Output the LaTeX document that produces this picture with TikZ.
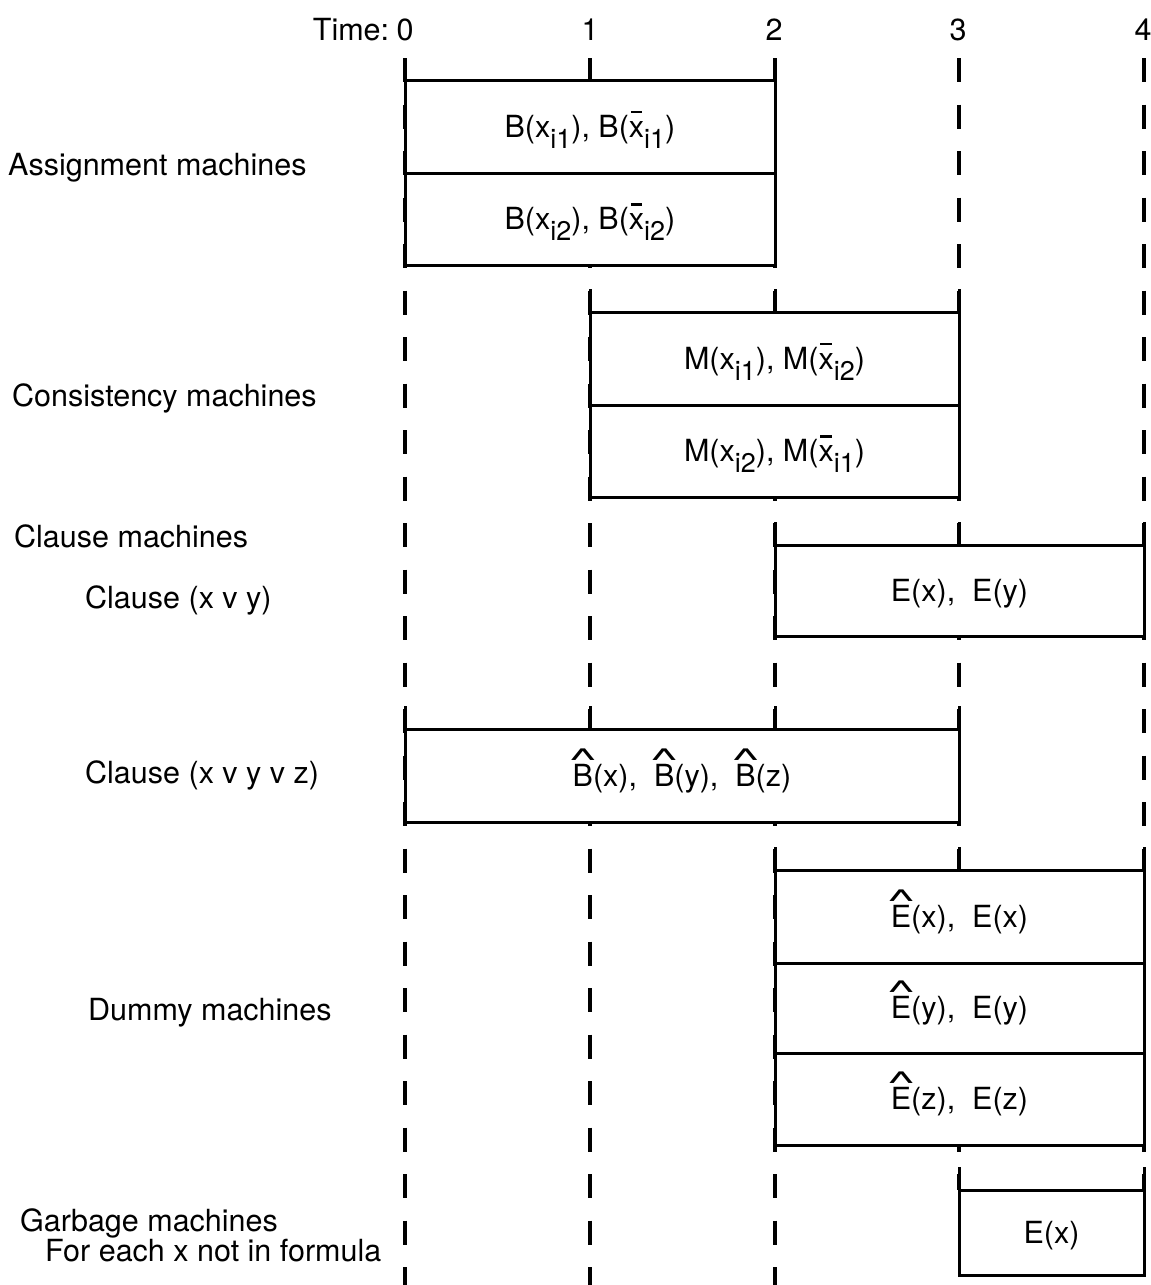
\documentclass[tikz,border=0pt]{standalone}
\usepackage{fontspec}
\setmainfont{TeX Gyre Heros}
\usepackage{graphicx}
\newsavebox\hatbox
\newcommand\hatof[1]{\sbox\hatbox{#1}\makebox[0pt][l]{\makebox[\wd\hatbox]{\raisebox{0.52em}[0pt][0pt]{\scalebox{2.0}[1.0]{\textasciicircum}}}}\usebox\hatbox}
\newcommand\xbar{\makebox[0pt][l]{\hspace{0.06em}\raisebox{0.78em}[0pt][0pt]{\rule{0.38em}{2.6pt}}}x}
\newcommand\sbs[1]{\raisebox{-11pt}{\fontsize{27}{30}\selectfont #1}}
\begin{document}
\begin{tikzpicture}[x=1pt,y=-1pt,
  lbl/.style={font=\fontsize{30.5}{36}\selectfont, inner sep=0pt, anchor=west, text height=21pt, text depth=0pt},
  cell/.style={draw, line width=3pt, fill=white, inner sep=0pt, font=\fontsize{30.5}{36}\selectfont, text height=21pt, text depth=0pt},
  dashline/.style={line width=3.5pt, dash pattern=on 24pt off 22.5pt},
  tickline/.style={line width=3pt}]
\useasboundingbox (0,0) rectangle (1151,1285);
% time axis labels
\node[lbl, anchor=center] (t0) at (405,30) {0};
\node[lbl, anchor=base east] (tlab) at ([xshift=-7pt]t0.base west) {Time:};
\node[lbl, anchor=center] (t1) at (590,30) {1};
\node[lbl, anchor=center] (t2) at (774,30) {2};
\node[lbl, anchor=center] (t3) at (958,30) {3};
\node[lbl, anchor=center] (t4) at (1143,30) {4};
% dashed time lines
\foreach \x in {405,590,775}
  \draw[dashline] (\x,58) -- (\x,1285);
\foreach \x in {959,1144}
  \draw[dashline] (\x,58) -- (\x,1190);
% ticks above boxes
\foreach \x in {405,590,775} \draw[tickline] (\x,60) -- (\x,80);
\foreach \x in {590,775,959} \draw[tickline] (\x,289) -- (\x,312);
\foreach \x in {775,959,1144} \draw[tickline] (\x,522) -- (\x,545);
\foreach \x in {405,590,775,959} \draw[tickline] (\x,706) -- (\x,729);
\foreach \x in {775,959,1144} \draw[tickline] (\x,847) -- (\x,870);
\foreach \x in {959,1144} \draw[tickline] (\x,1167) -- (\x,1190);
% assignment machines
\node[cell, minimum width=370pt, minimum height=93pt] (a1) at (590,126.5) {B(x\sbs{i1}), B(\xbar\sbs{i1})};
\node[cell, minimum width=370pt, minimum height=92pt] (a2) at (590,219) {B(x\sbs{i2}), B(\xbar\sbs{i2})};
% consistency machines
\node[cell, minimum width=369pt, minimum height=93pt] (c1) at (774.5,358.5) {M(x\sbs{i1}), M(\xbar\sbs{i2})};
\node[cell, minimum width=369pt, minimum height=92pt] (c2) at (774.5,451) {M(x\sbs{i2}), M(\xbar\sbs{i1})};
% clause machines
\node[cell, minimum width=369pt, minimum height=91pt] (k1) at (959.5,590.5) {E(x),\ \ E(y)};
\node[cell, minimum width=554pt, minimum height=93pt] (k2) at (682,775.5) {\hatof{B}(x),\ \ \hatof{B}(y),\ \ \hatof{B}(z)};
% dummy machines
\node[cell, minimum width=369pt, minimum height=93pt] (d1) at (959.5,916.5) {\hatof{E}(x),\ \ E(x)};
\node[cell, minimum width=369pt, minimum height=90pt] (d2) at (959.5,1008) {\hatof{E}(y),\ \ E(y)};
\node[cell, minimum width=369pt, minimum height=92pt] (d3) at (959.5,1099) {\hatof{E}(z),\ \ E(z)};
% garbage machines
\node[cell, minimum width=185pt, minimum height=85pt] (g1) at (1051.5,1232.5) {E(x)};
% left labels
\node[lbl] (la) at (8,165) {Assignment machines};
\node[lbl] (lc) at (12,396) {Consistency machines};
\node[lbl] (lk) at (14,537) {Clause machines};
\node[lbl] (lk1) at (85,598) {Clause (x v y)};
\node[lbl] (lk2) at (85,773) {Clause (x v y v z)};
\node[lbl] (ld) at (88,1010) {Dummy machines};
\node[lbl] (lg) at (20,1221) {Garbage machines};
\node[lbl] (lg2) at (45,1251) {For each x not in formula};
\end{tikzpicture}
\end{document}
